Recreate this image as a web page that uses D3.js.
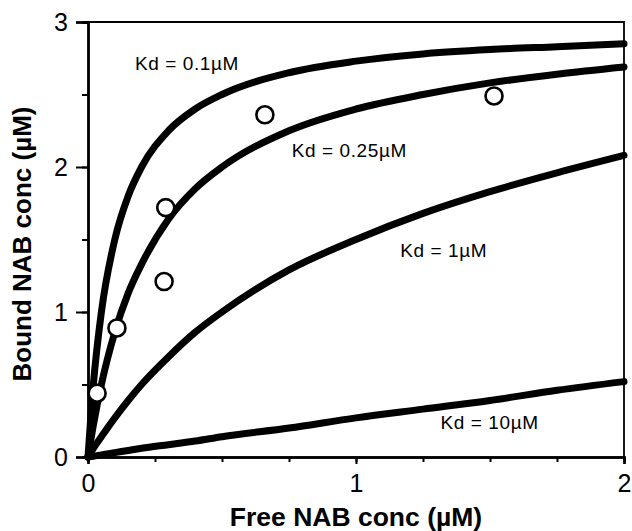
<!DOCTYPE html>
<meta charset="utf-8">
<script src="https://d3js.org/d3.v7.min.js"></script>
<style>
body { margin: 0; background: #fff; }
svg { font-family: "Liberation Sans", Arial, sans-serif; }
.curve { fill: none; stroke: #000; stroke-linecap: round; stroke-linejoin: round; }
.kd { font-size: 19px; letter-spacing: 0.6px; }
</style>
<body>
<div id="chart"></div>
<script>
// values
var freeConc = [0, 0.02, 0.05, 0.1, 0.15, 0.2, 0.3, 0.4, 0.5, 0.75, 1, 1.25, 1.5, 1.75, 2];
var kd01   = [0, 0.5, 1.0, 1.5, 1.8, 2.0, 2.25, 2.4, 2.5, 2.65, 2.73, 2.78, 2.81, 2.83, 2.85];
var kd025  = [0, 0.22, 0.5, 0.86, 1.13, 1.33, 1.64, 1.85, 2.0, 2.25, 2.4, 2.5, 2.58, 2.64, 2.69];
var kd1    = [0, 0.06, 0.14, 0.27, 0.39, 0.5, 0.69, 0.86, 1.0, 1.29, 1.5, 1.68, 1.83, 1.96, 2.08];
var kd10   = [0, 0.005, 0.015, 0.03, 0.045, 0.06, 0.085, 0.11, 0.14, 0.2, 0.27, 0.33, 0.39, 0.46, 0.52];

var pointX = [0.034, 0.108, 0.284, 0.29, 0.66, 1.515];
var pointY = [0.44, 0.89, 1.21, 1.72, 2.36, 2.49];

var labels = ["Kd = 0.1\u00b5M", "Kd = 0.25\u00b5M", "Kd = 1\u00b5M", "Kd = 10\u00b5M"];
var labelX = [0.175, 0.76, 1.165, 1.315];
var labelY = [2.67, 2.07, 1.38, 0.19];

var xTicks = [0, 1, 2];
var yTicks = [0, 1, 2, 3];

var W = 632, H = 531;
var margin = {top: 22, right: 8, bottom: 74, left: 88};

var svg = d3.select("#chart").append("svg")
  .attr("width", W).attr("height", H);

var x = d3.scaleLinear().domain([0, 2]).range([margin.left, W - margin.right]);
var y = d3.scaleLinear().domain([0, 3]).range([H - margin.bottom, margin.top]);

// frame
svg.append("path")
  .attr("d", "M" + x(0) + "," + y(3) + "H" + x(2) + "V" + y(0))
  .attr("fill", "none").attr("stroke", "#000").attr("stroke-width", 1.8);

// minor ticks
var xAxisMinor = d3.axisBottom(x).tickValues(d3.range(0, 2.01, 0.25)).tickSize(5).tickFormat("");
var yAxisMinor = d3.axisLeft(y).tickValues(d3.range(0, 3.01, 0.5)).tickSize(6).tickFormat("");
var gxm = svg.append("g").attr("transform", "translate(0," + y(0) + ")").call(xAxisMinor);
var gym = svg.append("g").attr("transform", "translate(" + x(0) + ",0)").call(yAxisMinor);

var gx = svg.append("g").attr("transform", "translate(0," + y(0) + ")")
  .call(d3.axisBottom(x).tickValues(xTicks).tickSize(7).tickPadding(10).tickFormat(d3.format("d")));
var gy = svg.append("g").attr("transform", "translate(" + x(0) + ",0)")
  .call(d3.axisLeft(y).tickValues(yTicks).tickSize(12).tickPadding(8).tickFormat(d3.format("d")));

[gxm, gym, gx, gy].forEach(function(g) {
  g.select(".domain").attr("stroke", "#000").attr("stroke-width", 2.4);
  g.selectAll(".tick line").attr("stroke", "#000").attr("stroke-width", 2);
  g.selectAll("text").attr("font-size", 25).attr("fill", "#000")
    .attr("font-family", "Liberation Sans, Arial, sans-serif");
});

// curves
var series = [kd01, kd025, kd1, kd10];
var line = d3.line()
  .x(function(d, i) { return x(freeConc[i]); })
  .y(function(d) { return y(d); })
  .curve(d3.curveMonotoneX);

svg.append("g").selectAll("path")
  .data(series).enter().append("path")
  .attr("class", "curve")
  .attr("stroke-width", 7)
  .attr("d", line);

// data points
svg.append("g").selectAll("circle")
  .data(pointX).enter().append("circle")
  .attr("cx", function(d) { return x(d); })
  .attr("cy", function(d, i) { return y(pointY[i]); })
  .attr("r", 8.5)
  .attr("fill", "#fff").attr("stroke", "#000").attr("stroke-width", 2.6);

// Kd labels
svg.append("g").selectAll("text")
  .data(labels).enter().append("text")
  .attr("class", "kd")
  .attr("x", function(d, i) { return x(labelX[i]); })
  .attr("y", function(d, i) { return y(labelY[i]); })
  .text(function(d) { return d; });

// axis titles
svg.append("text")
  .attr("x", x(1)).attr("y", 526)
  .attr("text-anchor", "middle")
  .attr("font-size", 26.5).attr("font-weight", "bold")
  .text("Free NAB conc (\u00b5M)");

svg.append("text")
  .attr("transform", "translate(31,244) rotate(-90)")
  .attr("text-anchor", "middle")
  .attr("font-size", 26).attr("font-weight", "bold")
  .text("Bound NAB conc (\u00b5M)");
</script>
</body>
